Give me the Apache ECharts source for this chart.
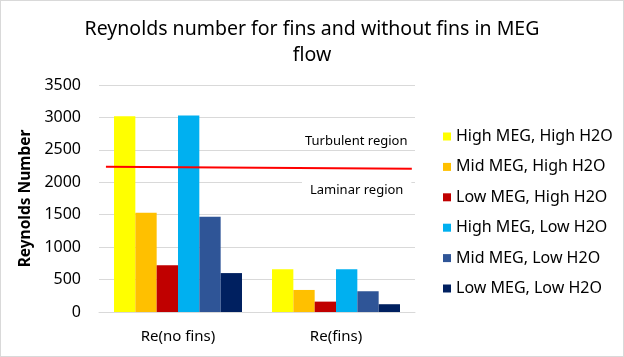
<!DOCTYPE html>
<html><head><meta charset="utf-8">
<script src="https://cdn.jsdelivr.net/npm/echarts@6/dist/echarts.min.js"></script>
<style>html,body{margin:0;padding:0;background:#fff}#c{width:622px;height:355px;border:1px solid #d9d9d9}</style>
</head><body><div id="c"></div>
<script>
const categories = ['Re(no fins)', 'Re(fins)'];
const seriesNames = ['High MEG, High H2O','Mid MEG, High H2O','Low MEG, High H2O','High MEG, Low H2O','Mid MEG, Low H2O','Low MEG, Low H2O'];
const highMegHighH2O = [3020, 660];
const midMegHighH2O = [1530, 340];
const lowMegHighH2O = [720, 160];
const highMegLowH2O = [3030, 660];
const midMegLowH2O = [1470, 320];
const lowMegLowH2O = [600, 120];
const transitionLine = [[0.022, 2240], [0.99, 2210]];
const colors = ['#FFFF00','#FFC000','#C00000','#00B0F0','#2F5597','#002060'];
const values = [highMegHighH2O, midMegHighH2O, lowMegHighH2O, highMegLowH2O, midMegLowH2O, lowMegLowH2O];
const font = 'Noto Sans';
const chart = echarts.init(document.getElementById('c'));
const series = values.map((v, i) => ({
  name: seriesNames[i], type: 'bar', data: v, barGap: '0%', barCategoryGap: '19%',
  itemStyle: {color: colors[i]}, xAxisIndex: 0
}));
series.push({
  type: 'line', xAxisIndex: 1, data: transitionLine, symbol: 'none',
  lineStyle: {color: '#FF0000', width: 2}, silent: true, z: 5
});
chart.setOption({
  animation: false,
  textStyle: {fontFamily: font},
  title: {
    text: 'Reynolds number for fins and without fins in MEG\nflow',
    left: 'center', top: 10,
    textStyle: {fontFamily: font, fontSize: 19.5, fontWeight: 'normal', color: '#000', lineHeight: 26}
  },
  legend: {
    orient: 'vertical', left: 437, top: 119, itemWidth: 8, itemHeight: 8, itemGap: 7.4,
    icon: 'rect', data: seriesNames,
    textStyle: {fontFamily: font, fontSize: 16, color: '#000', lineHeight: 23}
  },
  grid: {left: 98, right: 208, top: 84, bottom: 44, containLabel: false},
  xAxis: [{
    type: 'category', data: categories,
    axisLine: {lineStyle: {color: '#d9d9d9'}}, axisTick: {show: false},
    axisLabel: {color: '#000', fontSize: 15, fontFamily: font, margin: 17}
  }, {
    type: 'value', min: 0, max: 1, show: false
  }],
  yAxis: {
    type: 'value', min: 0, max: 3500, interval: 500,
    name: 'Reynolds Number', nameLocation: 'middle', nameGap: 56, nameRotate: 90,
    nameTextStyle: {fontFamily: font, fontSize: 15.5, fontWeight: 'bold', color: '#000'},
    axisLine: {show: false}, axisTick: {show: false},
    axisLabel: {color: '#000', fontSize: 16, fontFamily: font, margin: 18, formatter: v => String(v)},
    splitLine: {lineStyle: {color: '#d9d9d9'}}
  },
  graphic: [
    {type: 'text', left: 296, top: 132, z: 10, style: {text: 'Turbulent region', fontFamily: font, fontSize: 13, fill: '#000', backgroundColor: '#fff', padding: [2, 8]}},
    {type: 'text', left: 301, top: 181, z: 10, style: {text: 'Laminar region', fontFamily: font, fontSize: 13, fill: '#000', backgroundColor: '#fff', padding: [2, 8]}}
  ],
  series: series
});
</script></body></html>
